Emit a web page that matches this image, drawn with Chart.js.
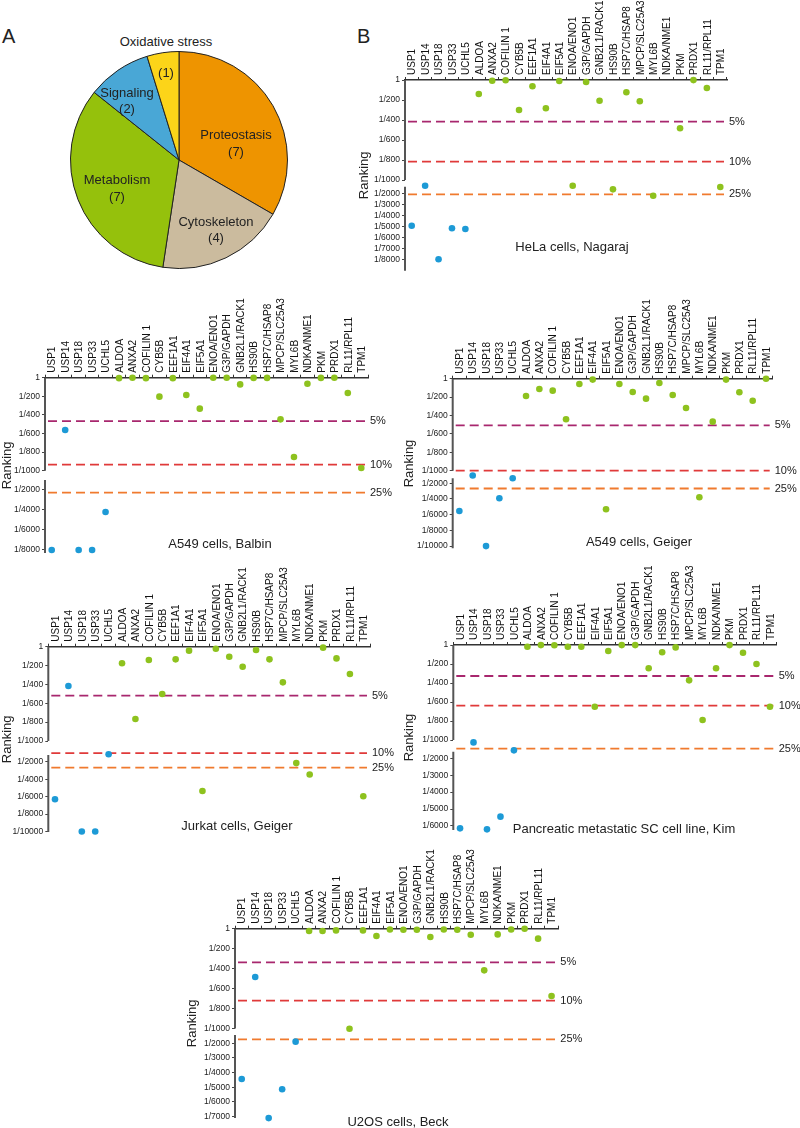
<!DOCTYPE html>
<html>
<head>
<meta charset="utf-8">
<script src="https://cdn.jsdelivr.net/npm/chart.js@4"></script>
<style>
body{margin:0;background:#fff}
#page{position:relative;width:800px;height:1128px;overflow:hidden;font-family:"Liberation Sans",Arial,sans-serif;color:#222;background:#fff}
#page canvas{position:absolute}
.txt{position:absolute;white-space:nowrap;line-height:1;transform:translate(-50%,-50%);font-size:13px}
.big{position:absolute;font-size:20px;line-height:1}
</style>
</head>
<body>
<div id="page">
<div class="big" style="left:2px;top:26px">A</div>
<div class="big" style="left:357px;top:26px">B</div>
<canvas id="pie" width="218" height="218" style="left:70px;top:51px"></canvas>
</div>
<script>
// genes on the x axis, first five are the DUBs (blue)
let genes=['USP1','USP14','USP18','USP33','UCHL5','ALDOA','ANXA2','COFILIN 1','CYB5B','EEF1A1','EIF4A1','EIF5A1','ENOA/ENO1','G3P/GAPDH','GNB2L1/RACK1','HS90B','HSP7C/HSAP8','MPCP/SLC25A3','MYL6B','NDKA/NME1','PKM','PRDX1','RL11/RPL11','TPM1']
let dubCount=5

let pieLabels=['Proteostasis','Cytoskeleton','Metabolism','Signaling','Oxidative stress']
let pieCounts=[7,4,7,2,1]
let pieColors=['#ee9400','#cbbb9e','#95c10c','#49a7d6','#fcd419']

let topTicks=[1,200,400,600,800,1000]
let cutNames=['5%','10%','25%']
let cutColors=['#a8276e','#e03a3a','#f07a2e']

// ranking denominators (1/x), null = not found
let helaRanks=[4950,1310,8000,5180,5250,140,7,3,300,63,283,10,1310,20,207,1640,123,213,2220,null,483,1,80,1430]
let helaLow=[2000,3000,4000,5000,6000,7000,8000]
let helaCuts=[417,817,2090]

let balbinRanks=[8000,562,8000,8000,4200,5,1,5,204,5,186,333,1,1,72,2,2,448,853,65,2,1,165,971]
let balbinLow=[2000,4000,6000,8000]
let balbinCuts=[466,935,2270]

let geigerRanks=[5530,1010,10000,3910,1360,188,112,130,441,58,10,5300,58,145,217,47,177,319,3770,467,10,148,239,1]
let geigerLow=[2000,4000,6000,8000,10000]
let geigerCuts=[507,1000,2660]

let jurkatRanks=[6300,417,10000,10000,1150,176,767,141,502,134,42,5350,21,106,212,35,134,378,2160,3460,10,124,290,5950]
let jurkatLow=[2000,4000,6000,8000,10000]
let jurkatCuts=[519,1025,2690]

let kimRanks=[6140,1060,6200,5450,1530,18,1,3,18,18,650,63,1,1,245,77,25,372,790,245,1,81,200,650]
let kimLow=[2000,3000,4000,5000,6000]
let kimCuts=[326,639,1430]

let beckRanks=[4430,485,7100,5130,1890,23,23,17,1010,17,73,8,10,10,83,8,10,60,418,57,8,1,100,675]
let beckLow=[2000,3000,4000,5000,6000,7000]
let beckCuts=[337,722,1740]

Chart.defaults.font.family='"Liberation Sans", Arial, sans-serif'
Chart.defaults.color='#222'

let page=document.getElementById('page')

function addText(t,x,y,size){
let d=document.createElement('div')
d.className='txt'
d.textContent=t
d.style.left=x+'px'
d.style.top=y+'px'
if(size) d.style.fontSize=size+'px'
page.appendChild(d)
}

// pie
new Chart(document.getElementById('pie'),{
type:'pie',
data:{labels:pieLabels,datasets:[{data:pieCounts,backgroundColor:pieColors,borderColor:'#222',borderWidth:1}]},
options:{responsive:false,animation:false,plugins:{legend:{display:false},tooltip:{enabled:false}}}
})

addText(pieLabels[0],236,134); addText('('+pieCounts[0]+')',236,151)
addText(pieLabels[1],216,221); addText('('+pieCounts[1]+')',216,237)
addText(pieLabels[2],117,179); addText('('+pieCounts[2]+')',117,196)
addText(pieLabels[3],127,92); addText('('+pieCounts[3]+')',127,108)
addText(pieLabels[4],166,41); addText('('+pieCounts[4]+')',166,72)

// broken axis: ranks up to 1000 are linear, below that the scale is compressed
function toPos(r,p){
return r<=1000 ? r : 1000+p.gap+(r-1000)*p.k
}

const cutPlugin={
id:'cuts',
beforeDatasetsDraw(chart,args,o){
let ctx=chart.ctx
let y=chart.scales.y
let a=chart.chartArea
ctx.save()
ctx.strokeStyle='#555'
ctx.lineWidth=2
ctx.beginPath()
ctx.moveTo(a.left,y.getPixelForValue(0))
ctx.lineTo(a.left,y.getPixelForValue(1000))
ctx.moveTo(a.left,y.getPixelForValue(o.lowStart))
ctx.lineTo(a.left,y.getPixelForValue(o.max))
ctx.stroke()
o.vals.forEach(function(v,i){
let py=y.getPixelForValue(v)
ctx.strokeStyle=cutColors[i]
ctx.lineWidth=1.8
ctx.setLineDash([9,5])
ctx.beginPath()
ctx.moveTo(a.left+3,py)
ctx.lineTo(a.right-3,py)
ctx.stroke()
ctx.setLineDash([])
ctx.fillStyle='#222'
ctx.font='11px "Liberation Sans", Arial'
ctx.textBaseline='middle'
ctx.textAlign='left'
ctx.fillText(cutNames[i],a.right+2,py)
})
ctx.restore()
}
}

function makePanel(p){
let c=document.createElement('canvas')
c.width=p.box[2]
c.height=p.box[3]
c.style.left=p.box[0]+'px'
c.style.top=p.box[1]+'px'
page.appendChild(c)

let tickVals=topTicks.concat(p.low)
let tickText=tickVals.map(v=>v==1?'1':'1/'+v)
let pts=p.ranks.map(r=>r==null?null:toPos(r,p))

new Chart(c,{
type:'line',
data:{labels:genes,datasets:[{
data:pts,showLine:false,clip:false,
pointRadius:3.3,pointHoverRadius:3.3,pointBorderWidth:0,
pointBackgroundColor:ctx=>ctx.dataIndex<dubCount?'#1d9ad6':'#8ec21e'
}]},
options:{
responsive:false,animation:false,
layout:{padding:{left:0,top:0,right:p.pr,bottom:p.pb}},
plugins:{
legend:{display:false},tooltip:{enabled:false},
cuts:{vals:p.cuts.map(r=>toPos(r,p)),lowStart:p.lowStart,max:p.max}
},
scales:{
x:{
position:'top',offset:true,
grid:{offset:true,drawOnChartArea:false,tickLength:3,color:'#333'},
border:{color:'#333',width:1.5},
ticks:{autoSkip:false,minRotation:90,maxRotation:90,padding:2,labelOffset:13,color:'#111',font:{size:10}},
afterFit:s=>{s.height=p.xh}
},
y:{
min:0,max:p.max,reverse:true,
grid:{drawOnChartArea:false,tickLength:3,color:'#444'},
border:{display:false},
ticks:{autoSkip:false,padding:2,color:'#222',font:{size:8.5},callback:(v,i)=>tickText[i]},
afterBuildTicks:s=>{s.ticks=tickVals.map(v=>({value:toPos(v,p)}))},
afterFit:s=>{s.width=p.yw},
title:{display:true,text:'Ranking',font:{size:13},color:'#222',padding:0}
}
}
},
plugins:[cutPlugin]
})

addText(p.title,p.titleAt[0],p.titleAt[1])
}

makePanel({title:'HeLa cells, Nagaraj',ranks:helaRanks,low:helaLow,cuts:helaCuts,
box:[357,0,443,285],yw:48,xh:80,pr:73,pb:14.3,k:0.11,gap:23,lowStart:1067,max:1907,titleAt:[572,246]})

makePanel({title:'A549 cells, Balbin',ranks:balbinRanks,low:balbinLow,cuts:balbinCuts,
box:[0,290,400,275],yw:45,xh:87.7,pr:32,pb:12,k:0.1075,gap:100,lowStart:1100,max:1885,titleAt:[220,543]})

makePanel({title:'A549 cells, Geiger',ranks:geigerRanks,low:geigerLow,cuts:geigerCuts,
box:[402,290,398,270],yw:50.7,xh:88.7,pr:27.3,pb:11.7,k:0.0853,gap:51.7,lowStart:1082.6,max:1843.5,titleAt:[639,541]})

makePanel({title:'Jurkat cells, Geiger',ranks:jurkatRanks,low:jurkatLow,cuts:jurkatCuts,
box:[0,555,400,290],yw:48.3,xh:91.7,pr:30,pb:13,k:0.0926,gap:126.9,lowStart:1148.5,max:1965,titleAt:[237,825]})

makePanel({title:'Pancreatic metastatic SC cell line, Kim',ranks:kimRanks,low:kimLow,cuts:kimCuts,
box:[402,555,398,290],yw:51.3,xh:90,pr:23.3,pb:15,k:0.178,gap:14.6,lowStart:1123,max:1947,titleAt:[624,828]})

makePanel({title:'U2OS cells, Beck',ranks:beckRanks,low:beckLow,cuts:beckCuts,
box:[185,838,435,290],yw:50,xh:90.7,pr:61.7,pb:10,k:0.1472,gap:2.2,lowStart:1066,max:1899,titleAt:[398,1121]})
</script>
</body>
</html>
